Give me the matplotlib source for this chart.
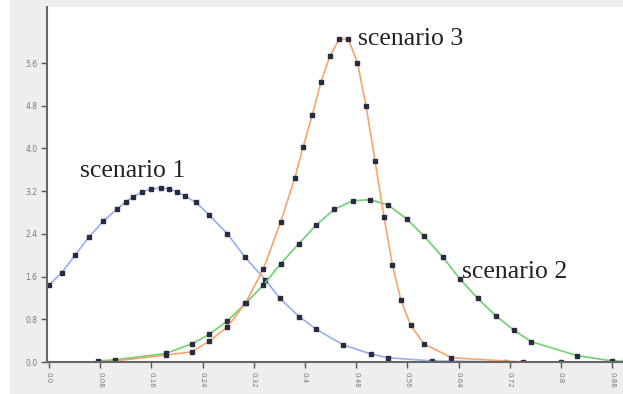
import matplotlib
matplotlib.use("Agg")
import matplotlib.pyplot as plt
from matplotlib.patches import Rectangle

# ---- data ----
s1_x = [0.0, 0.0198, 0.0406, 0.0625, 0.085, 0.106, 0.12, 0.132, 0.145, 0.159, 0.1745,
        0.188, 0.2, 0.2126, 0.2298, 0.2506, 0.279, 0.306, 0.338, 0.361, 0.391, 0.418,
        0.460, 0.503, 0.530, 0.599, 0.713, 0.80]
s1_y = [1.44, 1.67, 2.0, 2.34, 2.64, 2.86, 3.0, 3.10, 3.18, 3.24, 3.26,
        3.24, 3.19, 3.11, 2.99, 2.75, 2.40, 1.97, 1.54, 1.19, 0.85, 0.61,
        0.32, 0.15, 0.08, 0.02, 0.0, 0.0]

s2_x = [0.077, 0.103, 0.183, 0.223, 0.2506, 0.279, 0.3074, 0.335, 0.362, 0.390, 0.418,
        0.446, 0.4746, 0.502, 0.530, 0.559, 0.586, 0.615, 0.642, 0.670, 0.698, 0.726,
        0.754, 0.825, 0.88, 0.90]
s2_y = [0.02, 0.04, 0.16, 0.34, 0.52, 0.77, 1.10, 1.44, 1.84, 2.21, 2.57,
        2.86, 3.02, 3.04, 2.94, 2.68, 2.36, 1.97, 1.56, 1.19, 0.87, 0.60,
        0.38, 0.12, 0.02, 0.01]

s3_x = [0.077, 0.103, 0.183, 0.223, 0.2506, 0.279, 0.307, 0.335, 0.362, 0.384, 0.397,
        0.4115, 0.425, 0.439, 0.4537, 0.4678, 0.482, 0.4955, 0.5095, 0.5236, 0.5366,
        0.550, 0.565, 0.586, 0.629, 0.74, 0.90]
s3_y = [0.0, 0.02, 0.13, 0.19, 0.39, 0.66, 1.10, 1.74, 2.62, 3.44, 4.02,
        4.63, 5.24, 5.73, 6.05, 6.05, 5.61, 4.80, 3.77, 2.72, 1.82,
        1.16, 0.69, 0.34, 0.08, 0.0, 0.0]

labels = ["scenario 1", "scenario 2", "scenario 3"]
x_ticks = [0.0, 0.08, 0.16, 0.24, 0.32, 0.4, 0.48, 0.56, 0.64, 0.72, 0.8, 0.88]
x_ticklabels = ["0.0", "0.08", "0.16", "0.24", "0.32", "0.4", "0.48", "0.56",
                "0.64", "0.72", "0.8", "0.88"]
y_ticks = [0.0, 0.8, 1.6, 2.4, 3.2, 4.0, 4.8, 5.6]
y_ticklabels = ["0.0", "0.8", "1.6", "2.4", "3.2", "4.0", "4.8", "5.6"]

# ---- figure ----
W, H = 623, 394
fig = plt.figure(figsize=(W / 100, H / 100), dpi=100, facecolor="#eeeeee")
fig.patches.append(Rectangle((0, 0), 10 / W, 1, transform=fig.transFigure,
                             facecolor="white", edgecolor="none", zorder=0))
ax = fig.add_axes([47 / W, (H - 362) / H, (W - 47) / W, (362 - 7) / H])
ax.set_facecolor("white")

mk = dict(marker="s", markersize=2.3, markerfacecolor="#2a2a40",
          markeredgecolor="#2a2a40", linewidth=1.2)
ax.plot(s1_x, s1_y, color="#94aef5", **mk)
ax.plot(s2_x, s2_y, color="#6fd06f", **mk)
ax.plot(s3_x, s3_y, color="#f7a46c", **mk)

ax.set_xlim(-0.003, 0.897)
ax.set_ylim(0, 6.65)

for side in ("top", "right"):
    ax.spines[side].set_visible(False)
for side in ("left", "bottom"):
    ax.spines[side].set_color("#666666")
    ax.spines[side].set_linewidth(1.5)

ax.set_xticks(x_ticks)
ax.set_xticklabels(x_ticklabels, rotation=-90, fontsize=5, color="#777777")
ax.set_yticks(y_ticks)
ax.set_yticklabels(y_ticklabels, fontsize=5.5, color="#777777")
ax.tick_params(axis="both", length=4, width=1, color="#555555", pad=3)

tf = dict(family=["Liberation Serif", "DejaVu Serif"], fontsize=18.5, color="#222222")
ax.text(0.048, 3.47, labels[0], **tf)
ax.text(0.645, 1.57, labels[1], **tf)
ax.text(0.483, 5.94, labels[2], **tf)

fig.savefig("out.png", dpi=100, facecolor=fig.get_facecolor())
